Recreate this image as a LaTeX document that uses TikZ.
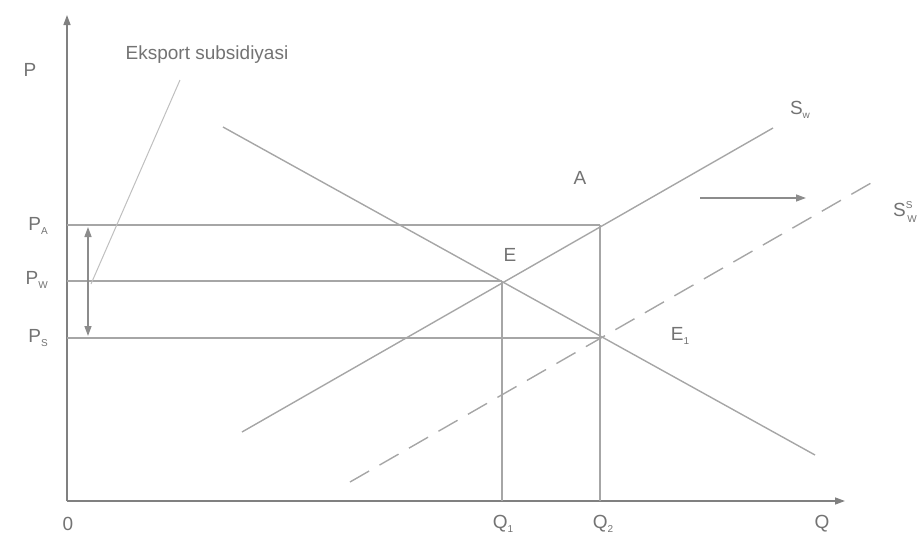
\documentclass[tikz,border=0pt]{standalone}
\usepackage{fontspec}
\setmainfont{Liberation Sans}
\usetikzlibrary{arrows.meta}
\newcommand{\lsub}[1]{\raisebox{-4pt}{\fontsize{10}{12}\selectfont #1}}
\begin{document}
\begin{tikzpicture}[x=1pt,y=-1pt,
  ln/.style={draw=black!35, line width=1.4pt},
  ax/.style={draw=black!50, line width=1.4pt},
  tip/.style={-{Triangle[length=10pt,width=7pt]}},
  lbl/.style={text=black!55, font=\fontsize{19}{21}\selectfont, inner sep=0pt}]
\useasboundingbox (0,0) rectangle (924,536);
% axes
\coordinate (O) at (67,501);
\coordinate (Ytop) at (67,15);
\coordinate (Xend) at (845,501);
\draw[ax,tip] (O) -- (Ytop);
\draw[ax,tip] (O) -- (Xend);
% key points
\coordinate (PA) at (67,225);
\coordinate (PW) at (67,281);
\coordinate (PS) at (67,338);
\coordinate (E) at (502,281);
\coordinate (Q2top) at (600,225);
\coordinate (E1) at (600,338);
\coordinate (Q1) at (502,501);
\coordinate (Q2) at (600,501);
% horizontal price lines
\draw[ln] (PA) -- (Q2top);
\draw[ln] (PW) -- (E);
\draw[ln] (PS) -- (E1);
% verticals
\draw[ln] (E) -- (Q1);
\draw[ln] (Q2top) -- (Q2);
% demand
\coordinate (D1) at (223,127);
\coordinate (D2) at (815,455);
\draw[ln] (D1) -- (D2);
% supply
\coordinate (S1) at (242,432);
\coordinate (S2) at (773,128);
\draw[ln] (S1) -- (S2);
% subsidised supply
\coordinate (SS1) at (350,482);
\coordinate (SS2) at (878,179);
\draw[ln, dash pattern=on 22pt off 12pt] (SS1) -- (SS2);
% subsidy double arrow
\coordinate (DA1) at (88,227);
\coordinate (DA2) at (88,336);
\draw[ln,{Triangle[length=10pt,width=7pt]}-{Triangle[length=10pt,width=7pt]}, draw=black!45] (DA1) -- (DA2);
% shift arrow
\coordinate (R1) at (700,198);
\coordinate (R2) at (806,198);
\draw[ln,tip, draw=black!45] (R1) -- (R2);
% labels
\node[lbl] (tP) at (30,70) {P};
\node[lbl] (tEx) at (207,55) {Eksport subsidiyasi};
\coordinate (L1) at (180,80);
\coordinate (L2) at (91,284);
\draw[draw=black!25, line width=1pt] (L1) -- (L2);
\node[lbl, anchor=east] (tPA) at (48,226) {P\lsub{A}};
\node[lbl, anchor=east] (tPW) at (48,280) {P\lsub{W}};
\node[lbl, anchor=east] (tPS) at (48,338) {P\lsub{S}};
\node[lbl] (t0) at (68,524) {0};
\node[lbl] (tQ1) at (503,524) {Q\lsub{1}};
\node[lbl] (tQ2) at (603,524) {Q\lsub{2}};
\node[lbl] (tQ) at (822,524) {Q};
\node[lbl] (tE) at (510,255) {E};
\node[lbl] (tE1) at (680,336) {E\lsub{1}};
\node[lbl] (tA) at (580,178) {A};
\node[lbl] (tSw) at (800,110) {S\lsub{w}};
\node[lbl] (tSS) at (905,212) {S\rlap{\raisebox{8pt}{\fontsize{10}{12}\selectfont S}}\raisebox{-6pt}{\fontsize{10}{12}\selectfont \,W}};
\end{tikzpicture}
\end{document}
